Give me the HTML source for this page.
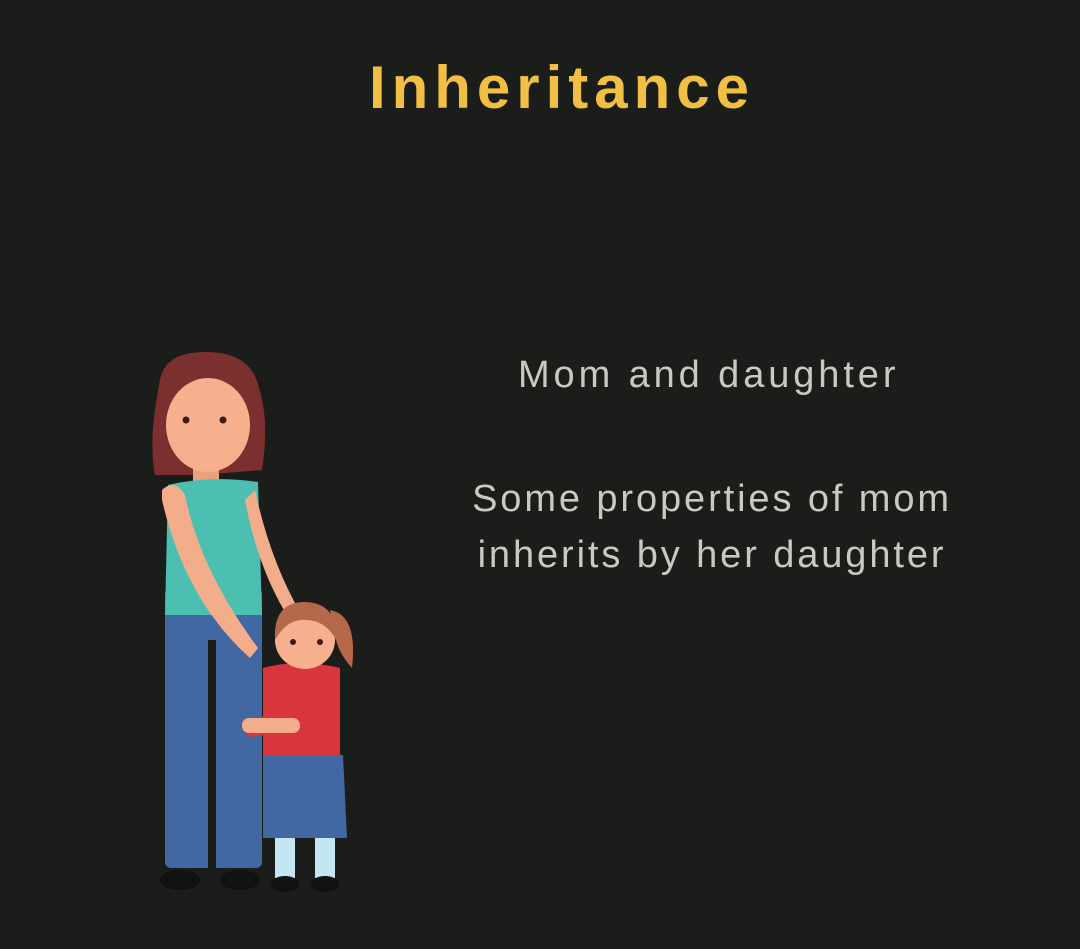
<!DOCTYPE html>
<html><head><meta charset="utf-8"><style>
html,body{margin:0;padding:0;background:#1b1d1a;}
#root{position:relative;width:1080px;height:949px;background:#1b1d1a;overflow:hidden;font-family:"Liberation Sans","DejaVu Sans",sans-serif;}
.t{position:absolute;white-space:nowrap;}
</style></head><body>
<div id="root">
<div class="t" style="left:352px;width:420px;text-align:center;top:53px;font-size:60px;font-weight:bold;color:#f2bf45;letter-spacing:6px;">Inheritance</div>
<div class="t" style="left:518px;top:354px;font-size:38px;color:#c9c9c2;letter-spacing:3.9px;">Mom and daughter</div>
<div class="t" style="left:466px;width:492px;top:471px;font-size:38px;color:#c9c9c2;letter-spacing:2.9px;line-height:56px;text-align:center;">Some properties of mom<br>inherits by her daughter</div>
<svg width="1080" height="949" style="position:absolute;left:0;top:0">
<g>
<path d="M160 380 Q165 352 205 352 Q250 352 258 385 Q270 420 262 470 L200 475 L155 475 Q148 440 160 380Z" fill="#7c2f2f"/>
<rect x="193" y="455" width="26" height="30" fill="#e9a07d"/>
<ellipse cx="208" cy="425" rx="42" ry="47" fill="#f6b08e"/>
<path d="M165 410 Q170 375 208 378 Q245 378 252 410 L254 385 Q240 360 205 360 Q170 362 162 390Z" fill="#7c2f2f"/>
<circle cx="186" cy="420" r="3.5" fill="#3a1a12"/><circle cx="223" cy="420" r="3.5" fill="#3a1a12"/>
<rect x="165" y="588" width="97" height="280" rx="6" fill="#4268a3"/>
<rect x="208" y="640" width="8" height="230" fill="#1b1d1a"/>
<path d="M168 485 Q210 475 258 482 L262 615 L165 615Z" fill="#4dbfb2"/>
<path d="M255 490 Q270 560 300 612 L290 620 Q258 570 245 500Z" fill="#f4ad8a"/>
<path d="M162 490 Q175 478 185 495 Q200 570 258 648 L250 658 Q185 600 162 500Z" fill="#f4ad8a"/>
<ellipse cx="180" cy="880" rx="20" ry="10" fill="#111"/><ellipse cx="240" cy="880" rx="20" ry="10" fill="#111"/>
</g>
<g>
<path d="M330 610 Q358 615 352 668 Q340 655 336 640Z" fill="#b5684a"/>
<path d="M263 668 Q300 658 340 668 L340 755 L263 755Z" fill="#d8353f"/>
<path d="M263 755 L343 755 L347 838 L263 838Z" fill="#4268a3"/>
<rect x="275" y="838" width="20" height="40" fill="#c4e5f2"/><rect x="315" y="838" width="20" height="40" fill="#c4e5f2"/>
<ellipse cx="285" cy="884" rx="14" ry="8" fill="#111"/><ellipse cx="325" cy="884" rx="14" ry="8" fill="#111"/>
<ellipse cx="305" cy="640" rx="30" ry="29" fill="#f6b08e"/>
<path d="M275 640 Q273 602 305 602 Q338 603 336 640 Q325 618 300 620 Q285 622 275 640Z" fill="#b5684a"/>
<circle cx="293" cy="642" r="3" fill="#3a1a12"/><circle cx="320" cy="642" r="3" fill="#3a1a12"/>
<path d="M335 690 L248 722 Q240 730 250 737 L305 730 L340 705Z" fill="#d8353f"/>
<rect x="242" y="718" width="58" height="15" rx="7" fill="#f4ad8a"/>
</g>
</svg>
</div>
</body></html>
